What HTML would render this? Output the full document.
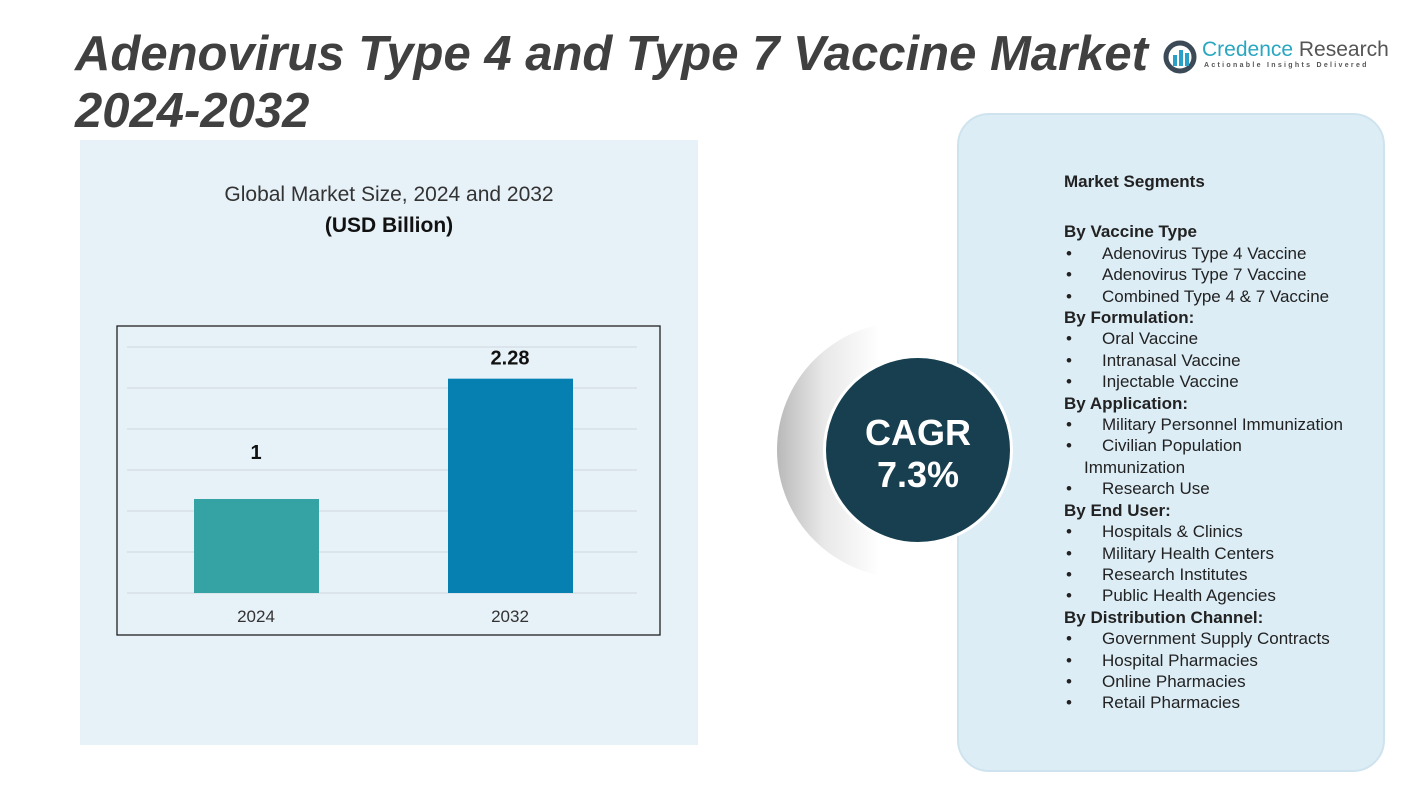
<!DOCTYPE html>
<html><head><meta charset="utf-8"><style>
body{margin:0;width:1428px;height:804px;overflow:hidden;background:#fff;font-family:"Liberation Sans",sans-serif;position:relative}
.abs{position:absolute}
#title{left:75px;top:26px;font-size:49px;font-weight:bold;font-style:italic;color:#404040;line-height:57px}
#left{left:80px;top:140px;width:618px;height:605px;background:#e7f1f8}
#right{left:957px;top:113px;width:424px;height:655px;background:#dcedf6;border:2px solid #cfe3ee;border-radius:32px;z-index:2}
.seg{font-size:17px;color:#222;line-height:21.4px;position:absolute;left:1064px;top:171px;z-index:3}
.seg b{display:block}
.seg .it{padding-left:38px;position:relative}
.seg .it:before{content:"•";position:absolute;left:2px}
</style></head><body>
<div id="left" class="abs"></div>
<div id="right" class="abs"></div>
<div id="title" class="abs">Adenovirus Type 4 and Type 7 Vaccine Market<br>2024-2032</div>
<div class="abs" style="left:1163px;top:38px;width:240px;height:40px">
<svg width="34" height="34" style="position:absolute;left:0;top:2px"><circle cx="17" cy="17" r="14" fill="none" stroke="#3b4a56" stroke-width="5"/><rect x="10" y="15" width="4" height="11" fill="#2aa0c8"/><rect x="16" y="10" width="4" height="16" fill="#2aa0c8"/><rect x="22" y="13" width="4" height="13" fill="#2aa0c8"/></svg>
<div style="position:absolute;left:39px;top:0;font-size:21px;color:#2aa7c0;white-space:nowrap">Credence <span style="color:#555">Research</span></div>
<div style="position:absolute;left:41px;top:24px;font-size:7px;letter-spacing:2.3px;color:#555;white-space:nowrap;font-weight:bold">Actionable Insights Delivered</div>
</div>
<div class="abs" style="left:80px;width:618px;top:183px;text-align:center;font-size:21px;color:#333">Global Market Size, 2024 and 2032</div>
<div class="abs" style="left:80px;width:618px;top:214px;text-align:center;font-size:21px;font-weight:bold;color:#111">(USD Billion)</div>
<svg id="chart" class="abs" style="left:0;top:0" width="1428" height="804">
<rect x="117" y="326" width="543" height="309" fill="none" stroke="#222" stroke-width="1.3"/>
<g id="g"></g>
</svg>
<div class="abs" style="left:777px;top:322px;width:256px;height:256px;border-radius:50%;background:linear-gradient(to right,#b9b9b9 0%,#e8e8e8 18%,rgba(255,255,255,0) 40%);z-index:1"></div>
<div class="abs" style="left:823px;top:355px;width:184px;height:184px;border:3px solid #fff;border-radius:50%;background:#173f4f;color:#fff;text-align:center;font-size:36px;font-weight:bold;line-height:42px;box-sizing:content-box;padding-top:0;z-index:4">
<div style="padding-top:54px">CAGR<br>7.3%</div></div>
<div class="seg">
<b>Market Segments</b><div style="height:29px"></div>
<b>By Vaccine Type</b>
<div class="it">Adenovirus Type 4 Vaccine</div><div class="it">Adenovirus Type 7 Vaccine</div><div class="it">Combined Type 4 &amp; 7 Vaccine</div>
<b>By Formulation:</b>
<div class="it">Oral Vaccine</div><div class="it">Intranasal Vaccine</div><div class="it">Injectable Vaccine</div>
<b>By Application:</b>
<div class="it">Military Personnel Immunization</div><div class="it">Civilian Population</div><div style="padding-left:20px">Immunization</div><div class="it">Research Use</div>
<b>By End User:</b>
<div class="it">Hospitals &amp; Clinics</div><div class="it">Military Health Centers</div><div class="it">Research Institutes</div><div class="it">Public Health Agencies</div>
<b>By Distribution Channel:</b>
<div class="it">Government Supply Contracts</div><div class="it">Hospital Pharmacies</div><div class="it">Online Pharmacies</div><div class="it">Retail Pharmacies</div>
</div>
<script>
const categories=["2024","2032"];
const values=[1,2.28];
const labels=["1","2.28"];
const gridTicks=[0,1,2,3,4,5,6];
const colors=["#35a3a3","#067fb1"];
const NS="http://www.w3.org/2000/svg",g=document.getElementById('g');
const base=593,scale=94,gridStep=41;
function y(v){return base-v*scale;}
function x(i){return 194+i*254;}
function mk(t,a){const e=document.createElementNS(NS,t);for(const k in a)e.setAttribute(k,a[k]);g.appendChild(e);return e;}
gridTicks.forEach(t=>{const l=mk('line',{x1:127,x2:637,y1:base-t*gridStep,y2:base-t*gridStep,stroke:'#cfd8de','stroke-width':1});

});
values.forEach((v,i)=>{
const r=mk('rect',{x:x(i),y:y(v),width:125,height:v*scale,fill:colors[i]});


const t=mk('text',{x:x(i)+62,y:i?y(v)-14:y(v)-40,'text-anchor':'middle','font-size':20,'font-weight':'bold',fill:'#111'});
t.textContent=labels[i];


const c=mk('text',{x:x(i)+62,y:622,'text-anchor':'middle','font-size':17,fill:'#333'});
c.textContent=categories[i];


});
</script>
</body></html>
